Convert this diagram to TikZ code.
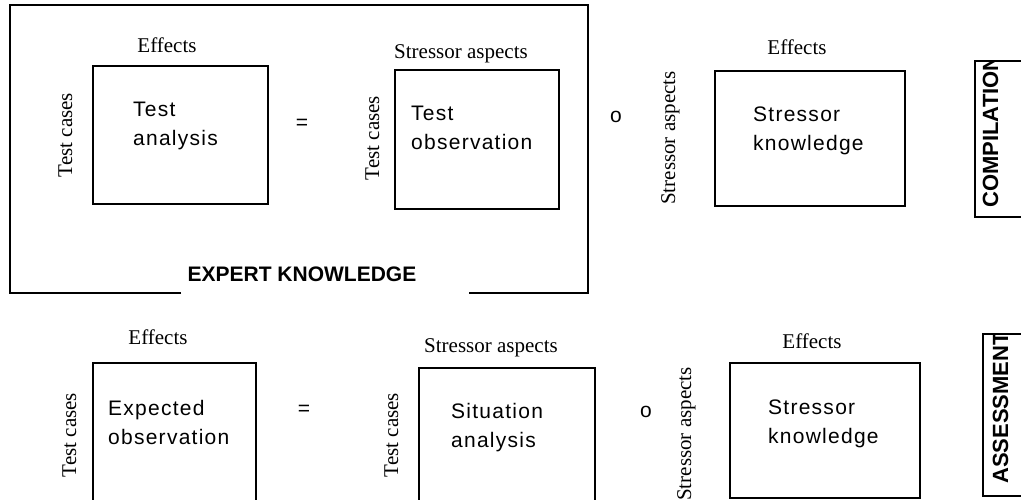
\documentclass[tikz,border=0pt]{standalone}
\usepackage{fontspec}
\setmainfont{Liberation Serif}
\setsansfont{Liberation Sans}
\newfontfamily\boxfont[LetterSpace=6]{Liberation Sans}
\begin{document}
\begin{tikzpicture}[x=1pt,y=-1pt,
  frame/.style={draw,line width=1.6pt,inner sep=0pt,outer sep=0pt,anchor=north west},
  boxtext/.style={font=\boxfont\fontsize{21}{29}\selectfont,align=left,inner sep=0pt,anchor=north west},
  axislabel/.style={font=\rmfamily\fontsize{21}{25}\selectfont,inner sep=0pt,anchor=base},
  sidelabel/.style={axislabel,rotate=90},
  operator/.style={font=\sffamily\fontsize{21}{25}\selectfont,inner sep=0pt},
  phase/.style={font=\sffamily\bfseries\fontsize{22}{26}\selectfont,inner sep=0pt,rotate=90,anchor=base west}]
\useasboundingbox (0,0) rectangle (1021,500);
\clip (0,0) rectangle (1021,500);

% ---- expert knowledge frame (open along its bottom edge for the title)
\coordinate (ek-a) at (181,293);
\coordinate (ek-b) at (469,293);
\coordinate (ek-nw) at (10,5);
\coordinate (ek-ne) at (588,5);
\draw[line width=1.6pt] (ek-a) -| (ek-nw) -| (ek-b -| ek-ne) -- (ek-b);
\node[font=\sffamily\bfseries\fontsize{21}{25}\selectfont,inner sep=0pt] (ek) at (302,274) {EXPERT KNOWLEDGE};

% ---- top row: compilation
\node[frame,minimum width=175pt,minimum height=138pt] (ta) at (93,66) {};
\node[boxtext] (ta-t) at (133,102) {Test\\analysis};
\node[axislabel] (ta-top) at (167,53) {Effects};
\node[sidelabel] (ta-side) at (72,135) {Test cases};

\node[operator] (eq1) at (302,124) {=};

\node[frame,minimum width=164pt,minimum height=139pt] (to) at (395,70) {};
\node[boxtext] (to-t) at (411,106) {Test\\observation};
\node[axislabel] (to-top) at (461,59) {Stressor aspects};
\node[sidelabel] (to-side) at (379,138) {Test cases};

\node[operator] (op1) at (616,117) {o};

\node[frame,minimum width=190pt,minimum height=135pt] (sk1) at (715,71) {};
\node[boxtext] (sk1-t) at (753,107) {Stressor\\knowledge};
\node[axislabel] (sk1-top) at (797,55) {Effects};
\node[sidelabel] (sk1-side) at (675,138) {Stressor aspects};

\node[frame,minimum width=80pt,minimum height=156pt] (comp) at (975,61) {};
\begin{scope}
  \clip (comp.north west) rectangle (comp.south east);
  \node[phase] (comp-t) at (998,208) {COMPILATION};
\end{scope}

% ---- bottom row: assessment
\node[frame,minimum width=163pt,minimum height=160pt] (eo) at (93,363) {};
\node[boxtext] (eo-t) at (108,400) {Expected\\observation};
\node[axislabel] (eo-top) at (158,344) {Effects};
\node[sidelabel] (eo-side) at (76,435) {Test cases};

\node[operator] (eq2) at (304,410) {=};

\node[frame,minimum width=176pt,minimum height=160pt] (sa) at (419,368) {};
\node[boxtext] (sa-t) at (451,403) {Situation\\analysis};
\node[axislabel] (sa-top) at (491,352) {Stressor aspects};
\node[sidelabel] (sa-side) at (398,435) {Test cases};

\node[operator] (op2) at (646,412) {o};

\node[frame,minimum width=190pt,minimum height=135pt] (sk2) at (730,363) {};
\node[boxtext] (sk2-t) at (768,400) {Stressor\\knowledge};
\node[axislabel] (sk2-top) at (812,348) {Effects};
\node[sidelabel] (sk2-side) at (691,434) {Stressor aspects};

\node[frame,minimum width=80pt,minimum height=162pt] (assess) at (983,334) {};
\begin{scope}
  \clip (assess.north west) rectangle (assess.south east);
  \node[phase] (assess-t) at (1008,484) {ASSESSMENT};
\end{scope}
\end{tikzpicture}
\end{document}
